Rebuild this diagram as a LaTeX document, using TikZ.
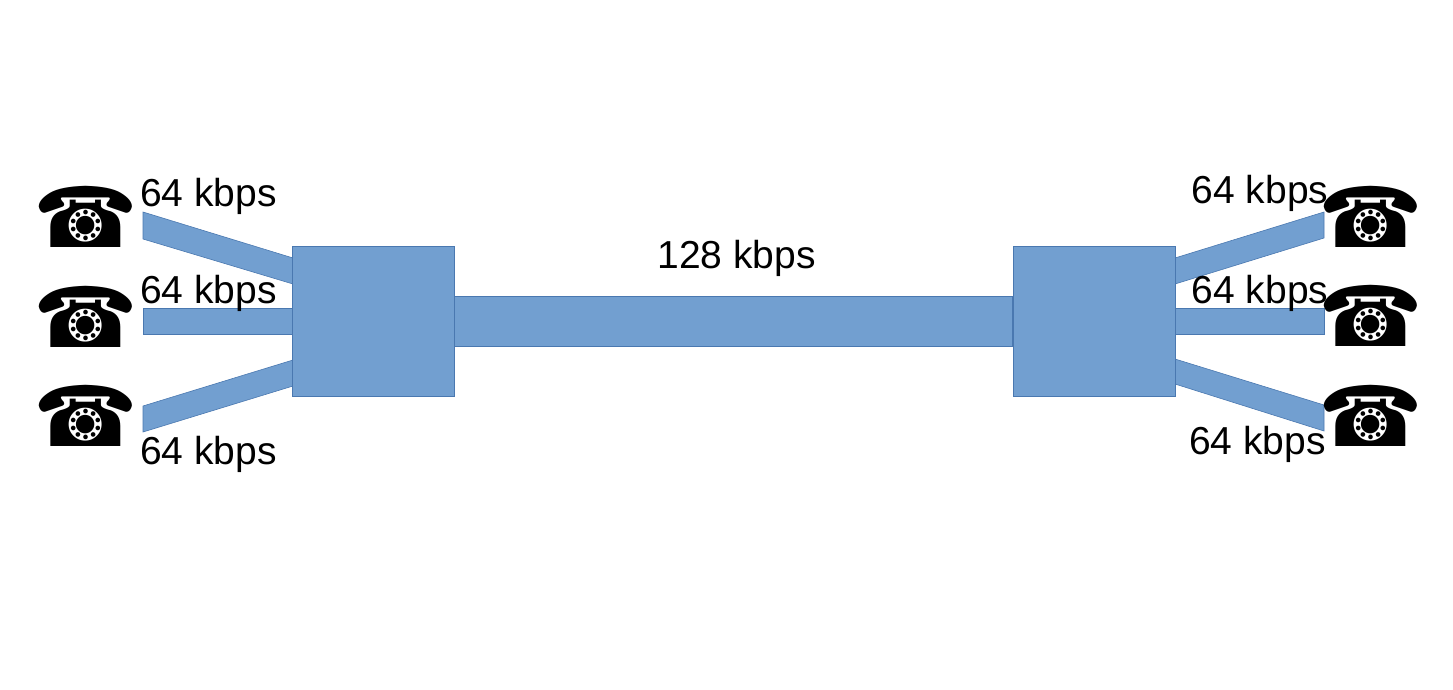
\documentclass[tikz,border=0pt]{standalone}
\usepackage{fontspec}
\setmainfont{Liberation Sans}
\newfontfamily\phonefont{DejaVu Sans}
\definecolor{linkblue}{HTML}{729FD0}
\definecolor{edgeblue}{HTML}{4A78B0}
\tikzset{
  x=1pt,y=-1pt,
  link/.style={fill=linkblue,draw=edgeblue,line width=0.6pt,line join=miter},
  muxbox/.style={draw=edgeblue,fill=linkblue,line width=0.8pt,inner sep=0,minimum width=162pt,minimum height=150pt},
  rate/.style={font=\fontsize{39}{39}\selectfont,inner sep=0,text=black},
  phone/.style={font=\phonefont\fontsize{84}{84}\selectfont,inner sep=0,text=black},
}
\begin{document}
\begin{tikzpicture}
\useasboundingbox (0,0) rectangle (1453,690);
\fill[white] (0,0) rectangle (1453,690);
\draw[link] (143,212) -- (293,258) -- (293,284) -- (143,239) -- cycle;
\draw[link] (143,308) -- (293,308) -- (293,334) -- (143,334) -- cycle;
\draw[link] (143,406) -- (293,360) -- (293,386) -- (143,432) -- cycle;
\draw[link] (1324,212) -- (1175,258) -- (1175,284) -- (1324,238) -- cycle;
\draw[link] (1324,308) -- (1175,308) -- (1175,334) -- (1324,334) -- cycle;
\draw[link] (1324,405) -- (1175,359) -- (1175,384) -- (1324,431) -- cycle;
\node[muxbox] (muxL) at (373.2,321) {};
\node[muxbox] (muxR) at (1094,321) {};
\draw[link] (muxL.east |- 0,296) -- (muxR.west |- 0,296) -- (muxR.west |- 0,346) -- (muxL.east |- 0,346) -- cycle;
\node[rate] (t1) at (208.5,196) {64 kbps};
\node[rate] (t2) at (208.5,293) {64 kbps};
\node[rate] (t3) at (208.5,454) {64 kbps};
\node[rate] (t4) at (1260,193) {64 kbps};
\node[rate] (t5) at (1260,293) {64 kbps};
\node[rate] (t6) at (1257.5,444) {64 kbps};
\node[rate] (t7) at (736.5,258) {128 kbps};
\node[phone] (p1) at (85.5,216.5) {☎};
\node[phone] (p2) at (85.5,316.5) {☎};
\node[phone] (p3) at (85.5,416) {☎};
\node[phone] (p4) at (1370.5,216.5) {☎};
\node[phone] (p5) at (1370.5,315.5) {☎};
\node[phone] (p6) at (1370.5,415.5) {☎};
\end{tikzpicture}
\end{document}
